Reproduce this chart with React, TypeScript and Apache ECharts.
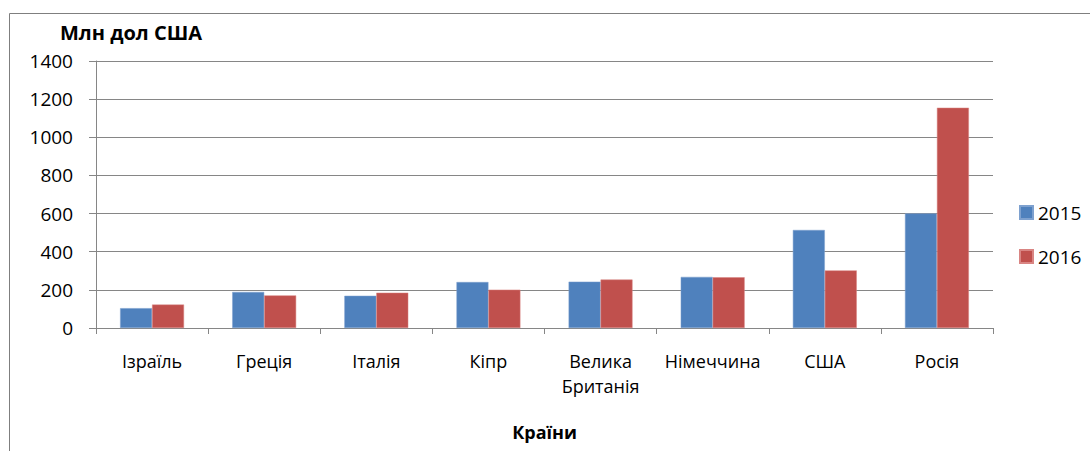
import React, { useEffect, useRef } from "react";
import * as echarts from "echarts";

const categories = ["Ізраїль", "Греція", "Італія", "Кіпр", "Велика\nБританія", "Німеччина", "США", "Росія"];
const series2015 = [104, 189, 169, 241, 243, 268, 514, 601];
const series2016 = [123, 171, 185, 201, 254, 266, 302, 1155];
const yTicks = { min: 0, max: 1400, interval: 200 };

const FONT = "'Open Sans', sans-serif";

export default function App() {
  const ref = useRef<HTMLDivElement>(null);
  useEffect(() => {
    if (!ref.current) return;
    const chart = echarts.init(ref.current, null, { renderer: "svg" });
    chart.setOption({
      animation: false,
      backgroundColor: "#ffffff",
      textStyle: { fontFamily: FONT },
      graphic: [
        {
          type: "rect",
          shape: { x: 9.5, y: 13.5, width: 1300, height: 700 },
          style: { fill: "none", stroke: "#7f7f7f", lineWidth: 1 },
          silent: true,
        },
        {
          type: "text",
          left: 60,
          top: 22,
          style: { text: "Млн дол США", font: `bold 20px ${FONT}`, fill: "#000" },
        },
      ],
      legend: {
        orient: "vertical",
        left: 1019,
        top: 203,
        padding: 0,
        itemWidth: 13,
        itemHeight: 13,
        itemGap: 25,
        icon: "rect",
        textStyle: { fontSize: 19, color: "#000", fontFamily: FONT },
        data: ["2015", "2016"],
      },
      grid: { left: 96, right: 97, top: 61, bottom: 123, containLabel: false },
      xAxis: {
        type: "category",
        data: categories,
        name: "Країни",
        nameLocation: "middle",
        nameGap: 95,
        nameTextStyle: { fontSize: 18, fontWeight: "bold", color: "#000", fontFamily: FONT },
        axisLine: { lineStyle: { color: "#868686" } },
        axisTick: { show: true, length: 6, lineStyle: { color: "#868686" } },
        axisLabel: { fontSize: 18, color: "#000", margin: 20, lineHeight: 25, fontFamily: FONT, interval: 0 },
      },
      yAxis: {
        type: "value",
        min: yTicks.min,
        max: yTicks.max,
        interval: yTicks.interval,
        axisLine: { show: true, lineStyle: { color: "#868686" } },
        axisTick: { show: true, length: 7, lineStyle: { color: "#868686" } },
        splitLine: { lineStyle: { color: "#868686" } },
        axisLabel: { fontSize: 19, color: "#000", margin: 23, fontFamily: FONT, formatter: (v: number) => String(v) },
      },
      series: [
        {
          name: "2015",
          type: "bar",
          data: series2015,
          barGap: "0%",
          barCategoryGap: "43%",
          itemStyle: { color: "#4F81BD", borderColor: "#7ea1cf", borderWidth: 0.5 },
        },
        {
          name: "2016",
          type: "bar",
          data: series2016,
          barGap: "0%",
          barCategoryGap: "43%",
          itemStyle: { color: "#C0504D", borderColor: "#d98583", borderWidth: 0.5 },
        },
      ],
    });
    return () => chart.dispose();
  }, []);
  return <div ref={ref} style={{ position: "absolute", left: 0, top: 0, width: 1090, height: 451 }} />;
}
